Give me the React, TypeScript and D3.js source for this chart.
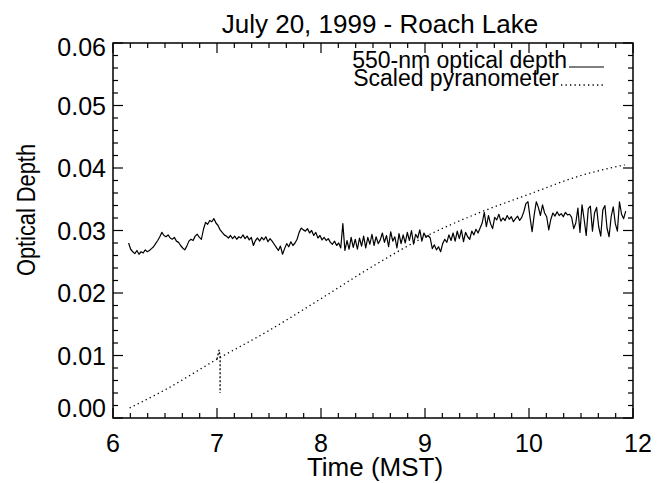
import React from 'react';
import * as d3 from 'd3';

// ---------- data ----------
const chartTitle = 'July 20, 1999 - Roach Lake';
const xTitle = 'Time (MST)';
const yTitle = 'Optical Depth';
const xTickValues = [6, 7, 8, 9, 10, 11];
const xTickLabels = ['6', '7', '8', '9', '10', '12'];
const yTickValues = [0, 0.01, 0.02, 0.03, 0.04, 0.05, 0.06];
const yTickLabels = ['0.00', '0.01', '0.02', '0.03', '0.04', '0.05', '0.06'];
const legendLabels = ['550-nm optical depth', 'Scaled pyranometer'];

// 550-nm optical depth, sampled every 0.02 (axis units) from 6.15
const tauStart = 6.15;
const tauStep = 0.02;
const tauValues = [
  0.0280, 0.0270, 0.0266, 0.0263, 0.0268, 0.0262, 0.0266, 0.0264, 0.0269, 0.0266, 0.0268, 0.0271,
  0.0274, 0.0279, 0.0284, 0.0290, 0.0297, 0.0292, 0.0290, 0.0293, 0.0288, 0.0286, 0.0289, 0.0283,
  0.0281, 0.0276, 0.0272, 0.0269, 0.0275, 0.0283, 0.0286, 0.0284, 0.0291, 0.0294, 0.0289, 0.0286,
  0.0302, 0.0313, 0.0310, 0.0316, 0.0314, 0.0319, 0.0312, 0.0308, 0.0301, 0.0297, 0.0293, 0.0291,
  0.0288, 0.0292, 0.0287, 0.0291, 0.0286, 0.0290, 0.0288, 0.0293, 0.0287, 0.0291, 0.0285, 0.0289,
  0.0276, 0.0284, 0.0288, 0.0283, 0.0289, 0.0285, 0.0290, 0.0282, 0.0287, 0.0283, 0.0278, 0.0273,
  0.0268, 0.0275, 0.0262, 0.0271, 0.0279, 0.0274, 0.0282, 0.0276, 0.0280, 0.0286, 0.0297, 0.0304,
  0.0301, 0.0299, 0.0303, 0.0296, 0.0300, 0.0292, 0.0297, 0.0288, 0.0292, 0.0285, 0.0289, 0.0284,
  0.0287, 0.0281, 0.0278, 0.0283, 0.0276, 0.0280, 0.0272, 0.0311, 0.0268, 0.0284, 0.0270, 0.0289,
  0.0273, 0.0286, 0.0270, 0.0288, 0.0275, 0.0291, 0.0272, 0.0289, 0.0278, 0.0294, 0.0276, 0.0290,
  0.0279, 0.0285, 0.0296, 0.0281, 0.0292, 0.0274, 0.0298, 0.0283, 0.0290, 0.0272, 0.0295, 0.0279,
  0.0293, 0.0280, 0.0297, 0.0284, 0.0300, 0.0278, 0.0294, 0.0288, 0.0301, 0.0283, 0.0296, 0.0289,
  0.0292, 0.0288, 0.0271, 0.0277, 0.0269, 0.0274, 0.0266, 0.0279, 0.0286, 0.0281, 0.0293, 0.0284,
  0.0296, 0.0283, 0.0299, 0.0287, 0.0301, 0.0282, 0.0297, 0.0290, 0.0286, 0.0299, 0.0293, 0.0302,
  0.0296, 0.0304, 0.0312, 0.0329, 0.0306, 0.0324, 0.0311, 0.0303, 0.0321, 0.0317, 0.0326, 0.0315,
  0.0320, 0.0316, 0.0324, 0.0318, 0.0322, 0.0314, 0.0319, 0.0323, 0.0316, 0.0321, 0.0330, 0.0343,
  0.0346, 0.0321, 0.0298, 0.0325, 0.0346, 0.0337, 0.0324, 0.0341, 0.0328, 0.0322, 0.0301, 0.0318,
  0.0328, 0.0323, 0.0330, 0.0324, 0.0327, 0.0322, 0.0329, 0.0325, 0.0326, 0.0321, 0.0303, 0.0312,
  0.0336, 0.0297, 0.0341, 0.0318, 0.0292, 0.0335, 0.0339, 0.0299, 0.0328, 0.0337, 0.0306, 0.0291,
  0.0333, 0.0340, 0.0304, 0.0290, 0.0322, 0.0338, 0.0311, 0.0299, 0.0346, 0.0326, 0.0319, 0.0331,
];

// scaled pyranometer (read points)
const pyrTimes = [6.16, 6.5, 7.0, 7.5, 8.0, 8.5, 9.0, 9.5, 10.0, 10.5, 10.92];
const pyrValues = [0.0016, 0.0045, 0.0094, 0.0140, 0.0191, 0.0243, 0.0290, 0.0327, 0.0358, 0.0388, 0.0405];
// glitch in pyranometer record near 7:00
const spikeTimes = [7.0, 7.02, 7.03, 7.03];
const spikeValues = [0.0094, 0.0109, 0.0098, 0.0040];

// ---------- layout ----------
const W = 665;
const H = 483;
const L = 113, R = 633, T = 43, B = 418;
const FONT = 'Liberation Sans, Arial, Helvetica, sans-serif';

export default function App() {
  const x = d3.scaleLinear().domain([6, 11]).range([L, R]);
  const y = d3.scaleLinear().domain([0, 0.06]).range([B, T]);

  const xMinor = d3.range(0, 31).map((i) => 6 + i / 6);
  const yMinor = d3.range(0, 31).map((i) => i * 0.002);

  const tauLine = d3
    .line<number>()
    .x((_, i) => x(tauStart + i * tauStep))
    .y((d) => y(d));
  const pyrLine = d3
    .line<number>()
    .x((_, i) => x(pyrTimes[i]))
    .y((d) => y(d))
    .curve(d3.curveMonotoneX);
  const spikeLine = d3
    .line<number>()
    .x((_, i) => x(spikeTimes[i]))
    .y((d) => y(d));

  const majLen = 10;
  const minLen = 5;
  const fs = 25;

  return (
    <svg width={W} height={H} style={{ display: 'block', position: 'absolute', left: 0, top: 0, background: '#fff' }}>
      <rect x={0} y={0} width={W} height={H} fill="#fff" />
      {/* title */}
      <text x={380} y={33} textAnchor="middle" fontFamily={FONT} fontSize={26}>
        {chartTitle}
      </text>
      {/* frame */}
      <rect x={L} y={T} width={R - L} height={B - T} fill="none" stroke="#000" strokeWidth={1.5} />
      {/* x ticks */}
      {xMinor.map((v, i) => {
        const isMaj = i % 6 === 0;
        const len = isMaj ? majLen : minLen;
        return (
          <g key={'xt' + i} stroke="#000" strokeWidth={1.2}>
            <line x1={x(v)} x2={x(v)} y1={B} y2={B - len} />
            <line x1={x(v)} x2={x(v)} y1={T} y2={T + len} />
          </g>
        );
      })}
      {/* y ticks */}
      {yMinor.map((v, i) => {
        const isMaj = i % 5 === 0;
        const len = isMaj ? majLen : minLen;
        return (
          <g key={'yt' + i} stroke="#000" strokeWidth={1.2}>
            <line x1={L} x2={L + len} y1={y(v)} y2={y(v)} />
            <line x1={R} x2={R - len} y1={y(v)} y2={y(v)} />
          </g>
        );
      })}
      {/* x tick labels */}
      {xTickValues.map((v, i) => (
        <text key={'xl' + i} x={x(v) + (i === xTickValues.length - 1 ? 5 : 0)} y={452} textAnchor="middle" fontFamily={FONT} fontSize={fs}>
          {xTickLabels[i]}
        </text>
      ))}
      {/* y tick labels (end labels kept inside the frame height) */}
      {yTickValues.map((v, i) => (
        <text
          key={'yl' + i}
          x={L - 7}
          y={Math.min(B - 10, Math.max(T + 4, y(v)))}
          dy="0.36em"
          textAnchor="end"
          fontFamily={FONT}
          fontSize={fs}
        >
          {yTickLabels[i]}
        </text>
      ))}
      {/* axis titles */}
      <text x={(L + R) / 2 + 2} y={476} textAnchor="middle" fontFamily={FONT} fontSize={26}>
        {xTitle}
      </text>
      <text
        transform={`translate(35, 210) rotate(-90)`}
        textAnchor="middle"
        fontFamily={FONT}
        fontSize={26}
        textLength={132}
        lengthAdjust="spacingAndGlyphs"
      >
        {yTitle}
      </text>
      {/* data */}
      <path d={pyrLine(pyrValues) || ''} fill="none" stroke="#000" strokeWidth={1.3} strokeDasharray="1.3,3.2" />
      <path d={spikeLine(spikeValues) || ''} fill="none" stroke="#000" strokeWidth={1.3} strokeDasharray="2,2" />
      <path d={tauLine(tauValues) || ''} fill="none" stroke="#000" strokeWidth={1.2} strokeLinejoin="round" />
      {/* legend */}
      <text x={567} y={68} textAnchor="end" fontFamily={FONT} fontSize={23}>
        {legendLabels[0]}
      </text>
      <line x1={569} x2={604} y1={67} y2={67} stroke="#000" strokeWidth={1.2} />
      <text x={559} y={86} textAnchor="end" fontFamily={FONT} fontSize={23}>
        {legendLabels[1]}
      </text>
      <line x1={561} x2={604} y1={85} y2={85} stroke="#000" strokeWidth={1.3} strokeDasharray="1.3,3.2" />
    </svg>
  );
}
